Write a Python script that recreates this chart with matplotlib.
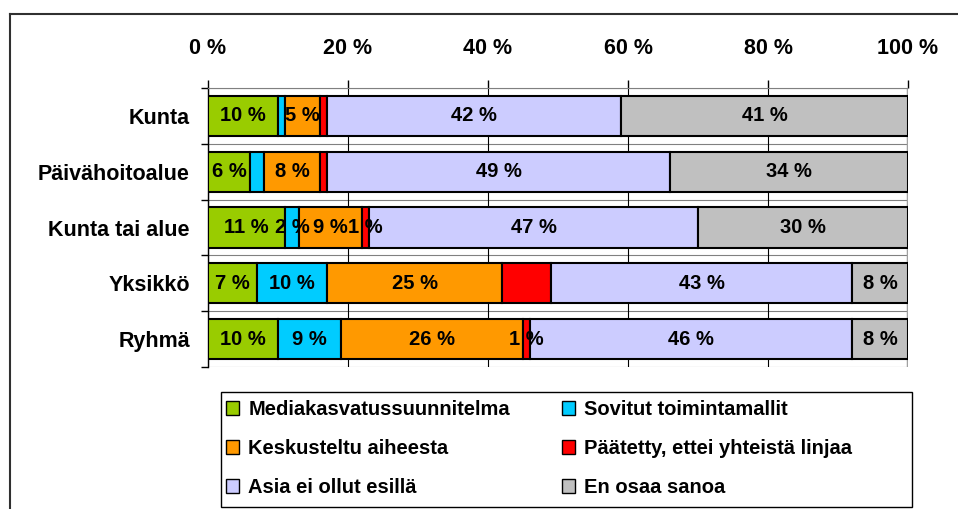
import numpy as np
import matplotlib.pyplot as plt
from matplotlib.lines import Line2D
from matplotlib.patches import Rectangle

plt.rcParams['font.family'] = ['Liberation Sans', 'DejaVu Sans']
plt.rcParams['font.weight'] = 'bold'

# Data
categories = ['Kunta', 'Päivähoitoalue', 'Kunta tai alue', 'Yksikkö', 'Ryhmä']
series = ['Mediakasvatussuunnitelma', 'Sovitut toimintamallit', 'Keskusteltu aiheesta',
          'Päätetty, ettei yhteistä linjaa', 'Asia ei ollut esillä', 'En osaa sanoa']
colors = ['#99CC00', '#00CCFF', '#FF9900', '#FF0000', '#CCCCFF', '#C0C0C0']

mediakasvatus = [10, 6, 11, 7, 10]
sovitut = [1, 2, 2, 10, 9]
keskusteltu = [5, 8, 9, 25, 26]
paatetty = [1, 1, 1, 7, 1]
ei_esilla = [42, 49, 47, 43, 46]
en_osaa = [41, 34, 30, 8, 8]
values = [mediakasvatus, sovitut, keskusteltu, paatetty, ei_esilla, en_osaa]

# labels shown in the bars ('' = no label)
bar_labels = [
    ['10 %', '6 %', '11 %', '7 %', '10 %'],
    ['', '', '2 %', '10 %', '9 %'],
    ['5 %', '8 %', '9 %', '25 %', '26 %'],
    ['', '', '1 %', '', '1 %'],
    ['42 %', '49 %', '47 %', '43 %', '46 %'],
    ['41 %', '34 %', '30 %', '8 %', '8 %'],
]
xticks = [0, 20, 40, 60, 80, 100]
xtick_labels = ['0 %', '20 %', '40 %', '60 %', '80 %', '100 %']

fig = plt.figure(figsize=(9.58, 5.09), dpi=100)
ax = fig.add_axes([208 / 958, 1 - 367 / 509, 700 / 958, 279 / 509])

y = np.arange(len(categories))
left = np.zeros(len(categories))
handles = []
for vals, col, labs, name in zip(values, colors, bar_labels, series):
    bars = ax.barh(y, vals, left=left, height=0.72, color=col, edgecolor='black',
                   linewidth=1.5, zorder=3, label=name)
    handles.append(bars)
    for i, (v, lab) in enumerate(zip(vals, labs)):
        if lab:
            ax.text(left[i] + v / 2, y[i], lab, ha='center', va='center',
                    fontsize=14.5, fontweight='bold', zorder=4)
    left += np.array(vals)

ax.set_xlim(0, 100)
ax.set_ylim(len(categories) - 0.5, -0.5)

# 3d-ish floor lines between rows
for b in np.arange(-0.5, len(categories), 1.0):
    ax.axhline(b, color='#808080', linewidth=0.8, zorder=1)
ax.axvline(100, color='#A0A0A0', linewidth=2.5, zorder=2)

ax.xaxis.tick_top()
ax.set_xticks(xticks)
ax.set_xticklabels(xtick_labels, fontsize=15.5, fontweight='bold')
ax.tick_params(axis='x', length=6, width=1, direction='out', pad=15)
ax.grid(axis='x', color='black', linewidth=0.8, zorder=0)

ax.set_yticks(y)
ax.set_yticklabels(categories, fontsize=15.5, fontweight='bold')
ax.set_yticks(np.arange(-0.5, len(categories), 1.0), minor=True)
ax.tick_params(axis='y', which='major', length=0, pad=13)
ax.tick_params(axis='y', which='minor', length=5, width=1, direction='out')

for s in ['right', 'bottom']:
    ax.spines[s].set_visible(False)
ax.spines['top'].set_color('#808080')
ax.spines['left'].set_linewidth(1)

# legend, filled row by row, frame drawn separately
order = [0, 2, 4, 1, 3, 5]
leg = fig.legend([handles[k] for k in order], [series[k] for k in order],
                 ncol=2, loc='upper left', bbox_to_anchor=(226 / 958, 1 - 400 / 509),
                 prop={'weight': 'bold', 'size': 14.5}, frameon=False,
                 handlelength=0.65, handleheight=0.65, handletextpad=0.45,
                 labelspacing=1.0, columnspacing=2.6, borderpad=0, borderaxespad=0)
for h in leg.legend_handles:
    h.set_linewidth(1)
fig.add_artist(Rectangle((221 / 958, 1 - 507 / 509), 691 / 958, 115 / 509,
                         transform=fig.transFigure, fill=False,
                         edgecolor='black', linewidth=1))

# outer chart frame
fig.add_artist(Line2D([10 / 958, 10 / 958], [0, 1 - 14 / 509], color='#303030', linewidth=1.5))
fig.add_artist(Line2D([10 / 958, 1], [1 - 14 / 509, 1 - 14 / 509], color='#303030', linewidth=1.5))

fig.savefig('out.png', dpi=100)
